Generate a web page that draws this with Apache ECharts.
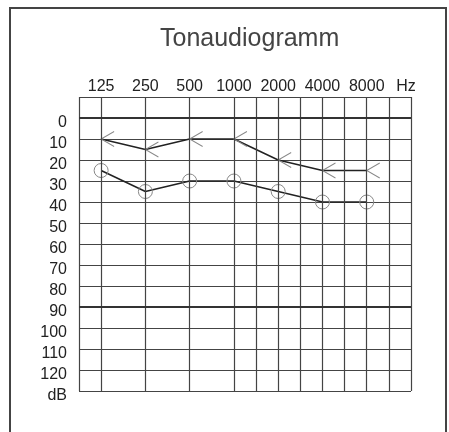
<!DOCTYPE html>
<html>
<head>
<meta charset="utf-8">
<script src="https://cdn.jsdelivr.net/npm/echarts@6/dist/echarts.min.js"></script>
<style>
html,body{margin:0;padding:0;background:#fff;}
#c{width:449px;height:432px;}
</style>
</head>
<body>
<div id="c"></div>
<script>
// Data
var frequencies = [125, 250, 500, 1000, 2000, 4000, 8000];
var boneConduction = [10, 15, 10, 10, 20, 25, 25];   // "<" markers
var airConduction = [25, 35, 30, 30, 35, 40, 40];    // "O" markers
var freqTickLabels = ['125', '250', '500', '1000', '2000', '4000', '8000', 'Hz'];
// vertical grid lines, in half-octave steps from 125/sqrt(2) Hz
var freqGridLines = [0, 1, 3, 5, 7, 8, 9, 10, 11, 12, 13, 14, 15];
var dbTicks = [0, 10, 20, 30, 40, 50, 60, 70, 80, 90, 100, 110, 120];
var dbUnit = 'dB';
var boldDbLines = [0, 90];

// half-octave position on the audiogram axis (125 Hz -> 1)
function pos(f) { return 2 * Math.log2(f / 125) + 1; }

var chart = echarts.init(document.getElementById('c'));
var font = 'Liberation Sans, Arial, sans-serif';
var gridColor = '#444';

var option = {
  backgroundColor: '#fff',
  animation: false,
  title: {
    text: 'Tonaudiogramm',
    left: 155,
    top: 22,
    textStyle: { fontFamily: font, fontSize: 25, fontWeight: 'normal', color: '#444' }
  },
  graphic: [{
    type: 'rect',
    shape: { x: 10, y: 8, width: 436, height: 500 },
    style: { fill: 'none', stroke: '#444', lineWidth: 2 },
    silent: true
  }],
  grid: { left: 79, right: 38, top: 97, bottom: 41 },
  xAxis: {
    type: 'value',
    position: 'top',
    min: 0, max: 15, interval: 1,
    axisLine: { show: false },
    axisTick: { show: false },
    splitLine: { show: false },
    axisLabel: {
      margin: 2,
      fontFamily: font, fontSize: 16, color: '#222',
      showMinLabel: true, showMaxLabel: true,
      formatter: function (v) {
        if (v === 15) return '{hz|' + freqTickLabels[7] + '}';
        for (var i = 0; i < frequencies.length; i++) {
          if (Math.abs(pos(frequencies[i]) - v) < 1e-6) return freqTickLabels[i];
        }
        return '';
      },
      rich: { hz: { fontFamily: font, fontSize: 16, color: '#222', padding: [0, 10, 0, 0] } }
    }
  },
  yAxis: {
    type: 'value',
    inverse: true,
    min: -10, max: 130, interval: 10,
    axisLine: { show: false },
    axisTick: { show: false },
    splitLine: { show: true, lineStyle: { color: gridColor, width: 1.2 } },
    axisLabel: {
      margin: 12,
      showMinLabel: true, showMaxLabel: true,
      formatter: function (v) {
        if (v === 130) return '{a|' + dbUnit + '}';
        if (dbTicks.indexOf(v) >= 0) return '{a|' + v + '}';
        return '';
      },
      rich: { a: { fontFamily: font, fontSize: 16, color: '#222', padding: [10, 0, 0, 0] } }
    }
  },
  series: [
    {
      type: 'line',
      name: 'Knochenleitung',
      data: frequencies.map(function (f, i) { return [pos(f), boneConduction[i]]; }),
      symbol: 'path://M13,0L0,7.5L13,15',
      symbolSize: [13, 15],
      symbolOffset: ['50%', 0],
      itemStyle: { color: 'rgba(0,0,0,0)', borderColor: '#888', borderWidth: 1 },
      lineStyle: { color: '#222', width: 1.5 },
      silent: true,
      z: 3,
      markLine: {
        silent: true,
        symbol: 'none',
        label: { show: false },
        lineStyle: { color: gridColor, width: 1.2, type: 'solid' },
        data: freqGridLines.map(function (x) { return { xAxis: x }; })
      }
    },
    {
      type: 'line',
      name: 'Luftleitung',
      data: frequencies.map(function (f, i) { return [pos(f), airConduction[i]]; }),
      symbol: 'circle',
      symbolSize: 14,
      itemStyle: { color: 'rgba(0,0,0,0)', borderColor: '#888', borderWidth: 1 },
      lineStyle: { color: '#222', width: 1.5 },
      silent: true,
      z: 3,
      markLine: {
        silent: true,
        symbol: 'none',
        label: { show: false },
        lineStyle: { color: '#333', width: 2, type: 'solid' },
        data: boldDbLines.map(function (y) { return { yAxis: y }; })
      }
    }
  ]
};
chart.setOption(option);
</script>
</body>
</html>
